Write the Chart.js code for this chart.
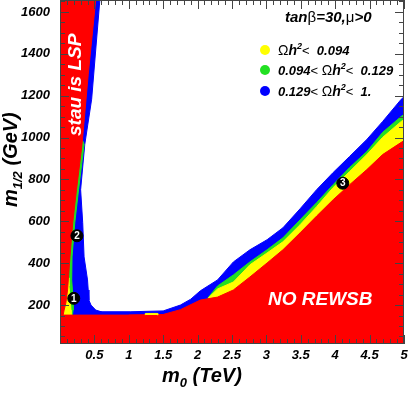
<!DOCTYPE html>
<html>
<head>
<meta charset="utf-8">
<script src="https://cdn.jsdelivr.net/npm/chart.js@4.4.0/dist/chart.umd.min.js"></script>
<style>
  html, body { margin: 0; padding: 0; background: #fff; }
  #wrap { width: 409px; height: 396px; }
</style>
</head>
<body>
<div id="wrap"><canvas id="scan" width="409" height="396"></canvas></div>
<script>
// m0 in TeV, m1/2 in GeV
const xTicks = [0.5, 1, 1.5, 2, 2.5, 3, 3.5, 4, 4.5, 5];
const yTicks = [200, 400, 600, 800, 1000, 1200, 1400, 1600];
const X_MIN = 0, X_MAX = 5, Y_MIN = 14, Y_MAX = 1657;

// stau LSP wedge (left) and the bands hugging it
const stauEdge = [[0.52, 1660], [0.41, 1300], [0.32, 967], [0.24, 751], [0.185, 593], [0.145, 430], [0.11, 272], [0.085, 210], [0.06, 176], [0.045, 152]];
const stauGreenEdge = [[0.33, 985], [0.35, 967], [0.27, 751], [0.215, 593], [0.175, 430], [0.17, 320], [0.18, 272], [0.19, 224], [0.19, 176], [0.18, 152]];
const stauYellowEdge = [[0.12, 330], [0.13, 290], [0.145, 240], [0.16, 176], [0.16, 152]];
const stauBlueEdge = [[0.58, 1660], [0.46, 1183], [0.36, 967], [0.30, 751], [0.33, 593], [0.35, 430], [0.40, 320], [0.41, 272], [0.42, 224], [0.45, 200], [0.52, 176], [0.6, 168]];

// bands above the "no REWSB" region (upper edge of each colour)
const blueTop = [[0.5, 168], [1.03, 168], [1.5, 172], [1.75, 200], [1.9, 228], [2.04, 268], [2.29, 320], [2.52, 406], [2.76, 464], [3.01, 512], [3.24, 569], [3.49, 660], [3.73, 751], [3.97, 833], [4.21, 910], [4.46, 991], [4.69, 1077], [4.96, 1183], [5.0, 1195]];
const greenTop = [[2.15, 234], [2.29, 291], [2.52, 344], [2.76, 406], [3.01, 464], [3.24, 521], [3.49, 607], [3.73, 689], [3.97, 775], [4.21, 857], [4.46, 933], [4.69, 1025], [4.96, 1101], [5.0, 1110]];
const yellowTop = [[2.15, 232], [2.29, 277], [2.52, 310], [2.76, 392], [3.01, 449], [3.24, 502], [3.49, 584], [3.73, 670], [3.97, 761], [4.21, 838], [4.46, 919], [4.69, 1001], [4.96, 1077], [5.0, 1085]];
const rewsbTop = [[1.0, 152], [1.5, 155], [1.75, 178], [2.04, 224], [2.29, 238], [2.52, 272], [2.76, 334], [3.01, 401], [3.24, 464], [3.49, 545], [3.73, 625], [3.97, 703], [4.21, 775], [4.46, 847], [4.69, 919], [4.96, 977], [5.0, 985]];

const stripTop = 152;
const yellowPatch = [[1.24, 152], [1.24, 160], [1.42, 160], [1.42, 152]];

// benchmark points 1..3
const benchLabels = ['1', '2', '3'];
const benchM0 = [0.2, 0.246, 4.11];
const benchM12 = [232, 531, 782];

const RED = '#ff0000', BLUE = '#0000ff', GREEN = '#22e022', YELLOW = '#ffff00';
const FONT = '"Liberation Sans", Arial, Helvetica, sans-serif';
const BI = (s) => `italic bold ${s}px ${FONT}`;
const RG = (s) => `${s}px ${FONT}`;

function toXY(pts) {
  return pts.map(([x, y]) => ({ x, y }));
}

function area(pts, color, order) {
  return {
    type: 'line',
    data: toXY(pts),
    showLine: true,
    fill: 'shape',
    backgroundColor: color,
    borderColor: color,
    borderWidth: 1,
    pointRadius: 0,
    tension: 0,
    order,
  };
}

// close an edge down to the bottom of the axis range
function downTo(edge, leftX) {
  const last = edge[edge.length - 1];
  return [...edge, [last[0], Y_MIN], [leftX, Y_MIN]];
}

const datasets = [
  area(downTo(blueTop, blueTop[0][0]), BLUE, 20),
  area(downTo(greenTop, greenTop[0][0]), GREEN, 19),
  area(downTo(yellowTop, yellowTop[0][0]), YELLOW, 18),
  area(downTo(rewsbTop, rewsbTop[0][0]), RED, 17),
  area(downTo([[0, 1660], ...stauBlueEdge], 0), BLUE, 16),
  area(downTo([[0, 985], ...stauGreenEdge], 0), GREEN, 15),
  area(downTo([[0, 330], ...stauYellowEdge], 0), YELLOW, 14),
  area(downTo([[0, 1660], ...stauEdge], 0), RED, 13),
  area([[0, stripTop], [5, stripTop], [5, Y_MIN], [0, Y_MIN]], RED, 12),
  area(yellowPatch, YELLOW, 11),
  {
    type: 'line',
    data: benchM0.map((x, i) => ({ x, y: benchM12[i] })),
    showLine: false,
    pointRadius: 6,
    pointHoverRadius: 6,
    pointBackgroundColor: '#000',
    pointBorderColor: '#000',
    order: 1,
  },
];

function runs(ctx, x, y, parts) {
  parts.forEach((p) => {
    ctx.font = p.f;
    ctx.fillText(p.t, x, y + (p.dy || 0));
    x += ctx.measureText(p.t).width + (p.gap || 0);
  });
  return x;
}

const decor = {
  id: 'decor',
  afterDatasetsDraw(chart) {
    const { ctx, chartArea: a, scales } = chart;
    const xs = scales.x, ys = scales.y;
    ctx.save();

    // numbers on the benchmark points
    const meta = chart.getDatasetMeta(datasets.length - 1);
    ctx.fillStyle = '#fff';
    ctx.font = `bold 10px ${FONT}`;
    ctx.textAlign = 'center';
    ctx.textBaseline = 'middle';
    meta.data.forEach((pt, i) => ctx.fillText(benchLabels[i], pt.x, pt.y + 0.5));

    // frame with inward ticks
    ctx.strokeStyle = '#444';
    ctx.lineWidth = 1;
    ctx.strokeRect(a.left + 0.5, a.top + 0.5, a.right - a.left - 1, a.bottom - a.top - 1);
    ctx.beginPath();
    for (let v = 0.1; v < X_MAX; v += 0.1) {
      const px = Math.round(xs.getPixelForValue(v)) + 0.5;
      const len = Math.abs(v * 2 - Math.round(v * 2)) < 1e-6 ? 9 : 5;
      ctx.moveTo(px, a.bottom); ctx.lineTo(px, a.bottom - len);
      ctx.moveTo(px, a.top); ctx.lineTo(px, a.top + len);
    }
    for (let v = 50; v < Y_MAX; v += 50) {
      const py = Math.round(ys.getPixelForValue(v)) + 0.5;
      const len = v % 200 === 0 ? 9 : 5;
      ctx.moveTo(a.left, py); ctx.lineTo(a.left + len, py);
      ctx.moveTo(a.right, py); ctx.lineTo(a.right - len, py);
    }
    ctx.stroke();

    ctx.textAlign = 'left';
    ctx.textBaseline = 'alphabetic';

    // region labels
    ctx.fillStyle = '#fff';
    ctx.font = BI(19);
    ctx.fillText('NO REWSB', 268, 305);
    ctx.save();
    ctx.translate(81, 136);
    ctx.rotate(-Math.PI / 2);
    ctx.fillText('stau is LSP', 0, 0);
    ctx.restore();

    // model parameters and legend
    ctx.fillStyle = '#000';
    runs(ctx, 285, 22, [
      { t: 'tan', f: BI(15) }, { t: 'β', f: RG(15) }, { t: '=30,', f: BI(15) },
      { t: 'μ', f: RG(15) }, { t: '>0', f: BI(15) },
    ]);
    const rows = [
      { c: YELLOW, y: 50, pre: null, post: '0.094' },
      { c: GREEN, y: 70, pre: '0.094', post: '0.129' },
      { c: BLUE, y: 91, pre: '0.129', post: '1.' },
    ];
    rows.forEach((r) => {
      ctx.fillStyle = r.c;
      ctx.beginPath();
      ctx.arc(265, r.y, 5, 0, Math.PI * 2);
      ctx.fill();
      ctx.fillStyle = '#000';
      const parts = [];
      if (r.pre) parts.push({ t: r.pre, f: BI(13) }, { t: '< ', f: RG(13) });
      parts.push({ t: 'Ω', f: RG(14) }, { t: 'h', f: BI(14) }, { t: '2', f: BI(9), dy: -6 },
        { t: '< ', f: RG(13) }, { t: ' ' + r.post, f: BI(13) });
      runs(ctx, 278, r.y + 5, parts);
    });

    // axis titles
    runs(ctx, 162, 382, [{ t: 'm', f: BI(20) }, { t: '0', f: BI(13), dy: 5 }, { t: ' (TeV)', f: BI(20) }]);
    ctx.save();
    ctx.translate(17, 207);
    ctx.rotate(-Math.PI / 2);
    runs(ctx, 0, 0, [{ t: 'm', f: BI(20) }, { t: '1/2', f: BI(13), dy: 5 }, { t: ' (GeV)', f: BI(20) }]);
    ctx.restore();

    ctx.restore();
  },
};

const tickFont = { family: FONT, size: 13, style: 'italic', weight: 'bold' };

new Chart(document.getElementById('scan'), {
  type: 'line',
  data: { datasets },
  options: {
    responsive: false,
    animation: false,
    events: [],
    layout: { autoPadding: false, padding: { top: 0, right: 5, bottom: 0, left: 0 } },
    plugins: { legend: { display: false }, tooltip: { enabled: false } },
    scales: {
      x: {
        type: 'linear',
        min: X_MIN,
        max: X_MAX,
        afterBuildTicks: (s) => { s.ticks = xTicks.map((value) => ({ value })); },
        afterFit: (s) => { s.height = 52; s.paddingLeft = 0; s.paddingRight = 0; },
        grid: { display: false, drawTicks: false },
        border: { display: false },
        ticks: { padding: 4, color: '#000', font: tickFont, autoSkip: false, maxRotation: 0, callback: (v) => String(v) },
      },
      y: {
        type: 'linear',
        min: Y_MIN,
        max: Y_MAX,
        afterBuildTicks: (s) => { s.ticks = yTicks.map((value) => ({ value })); },
        afterFit: (s) => { s.width = 60; s.paddingTop = 0; s.paddingBottom = 0; },
        grid: { display: false, drawTicks: false },
        border: { display: false },
        ticks: { padding: 10, color: '#000', font: tickFont, autoSkip: false, callback: (v) => String(v) },
      },
    },
  },
  plugins: [decor],
});
</script>
</body>
</html>
